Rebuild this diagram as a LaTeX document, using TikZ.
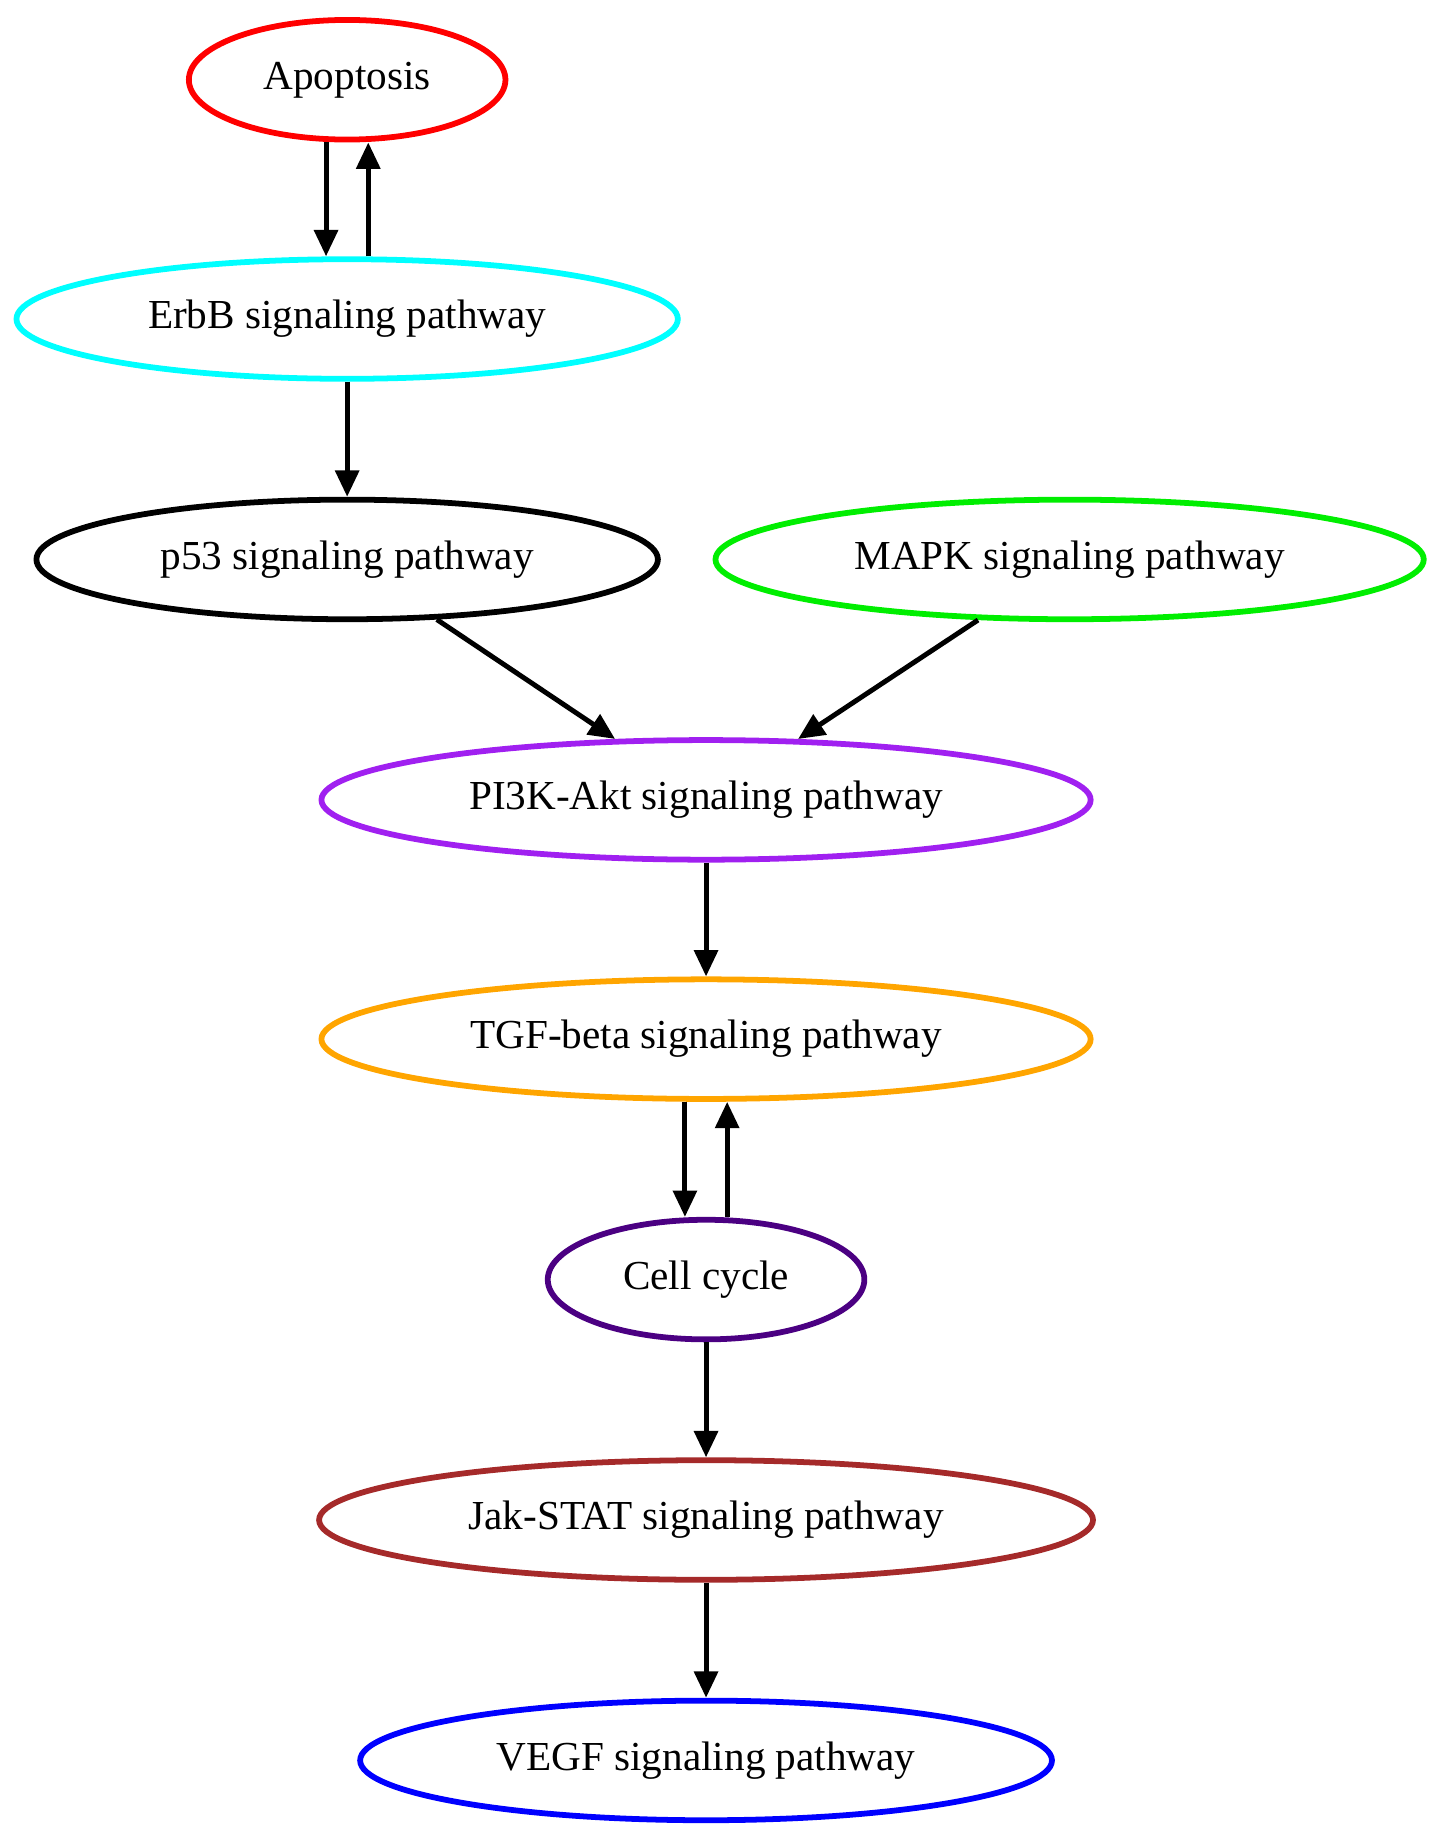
\documentclass[tikz,border=0pt]{standalone}
\usepackage{fontspec}
\setmainfont{Liberation Serif}
\usetikzlibrary{shapes.geometric,arrows.meta}
\definecolor{cerb}{RGB}{0,255,255}
\definecolor{cmapk}{RGB}{0,238,0}
\definecolor{cpi}{RGB}{160,32,240}
\definecolor{ctgf}{RGB}{255,165,0}
\definecolor{ccc}{RGB}{75,0,130}
\definecolor{cjak}{RGB}{165,42,42}
\begin{document}
\begin{tikzpicture}[x=0.02cm,y=-0.02cm,
  n/.style={ellipse,draw,line width=2.8pt,inner sep=0pt,minimum height=2.04cm,font=\fontsize{20}{24}\selectfont},
  e/.style={line width=2.4pt,-{Triangle[length=0.45cm,width=0.4cm]}}]
\useasboundingbox (0,0) rectangle (1230,1568);
\node[n,draw=red,minimum width=5.4cm] (apo) at (296,68) {Apoptosis};
\node[n,draw=cerb,minimum width=11.28cm] (erbb) at (296,272) {ErbB signaling pathway};
\node[n,draw=black,minimum width=10.6cm] (p53) at (296,477) {p53 signaling pathway};
\node[n,draw=cmapk,minimum width=12.08cm] (mapk) at (912,477) {MAPK signaling pathway};
\node[n,draw=cpi,minimum width=13.12cm] (pi3k) at (602,682) {PI3K-Akt signaling pathway};
\node[n,draw=ctgf,minimum width=13.12cm] (tgf) at (602,886) {TGF-beta signaling pathway};
\node[n,draw=ccc,minimum width=5.4cm] (cc) at (602,1091) {Cell cycle};
\node[n,draw=cjak,minimum width=13.2cm] (jak) at (602,1296) {Jak-STAT signaling pathway};
\node[n,draw=blue,minimum width=11.8cm] (vegf) at (602,1501) {VEGF signaling pathway};
\draw[e] ([xshift=-0.36cm]apo.south) -- ([xshift=-0.36cm]erbb.north);
\draw[e] ([xshift=0.36cm]erbb.north) -- ([xshift=0.36cm]apo.south);
\draw[e] (erbb) -- (p53);
\draw[e] (p53) -- (pi3k);
\draw[e] (mapk) -- (pi3k);
\draw[e] (pi3k) -- (tgf);
\draw[e] ([xshift=-0.36cm]tgf.south) -- ([xshift=-0.36cm]cc.north);
\draw[e] ([xshift=0.36cm]cc.north) -- ([xshift=0.36cm]tgf.south);
\draw[e] (cc) -- (jak);
\draw[e] (jak) -- (vegf);
\end{tikzpicture}
\end{document}
